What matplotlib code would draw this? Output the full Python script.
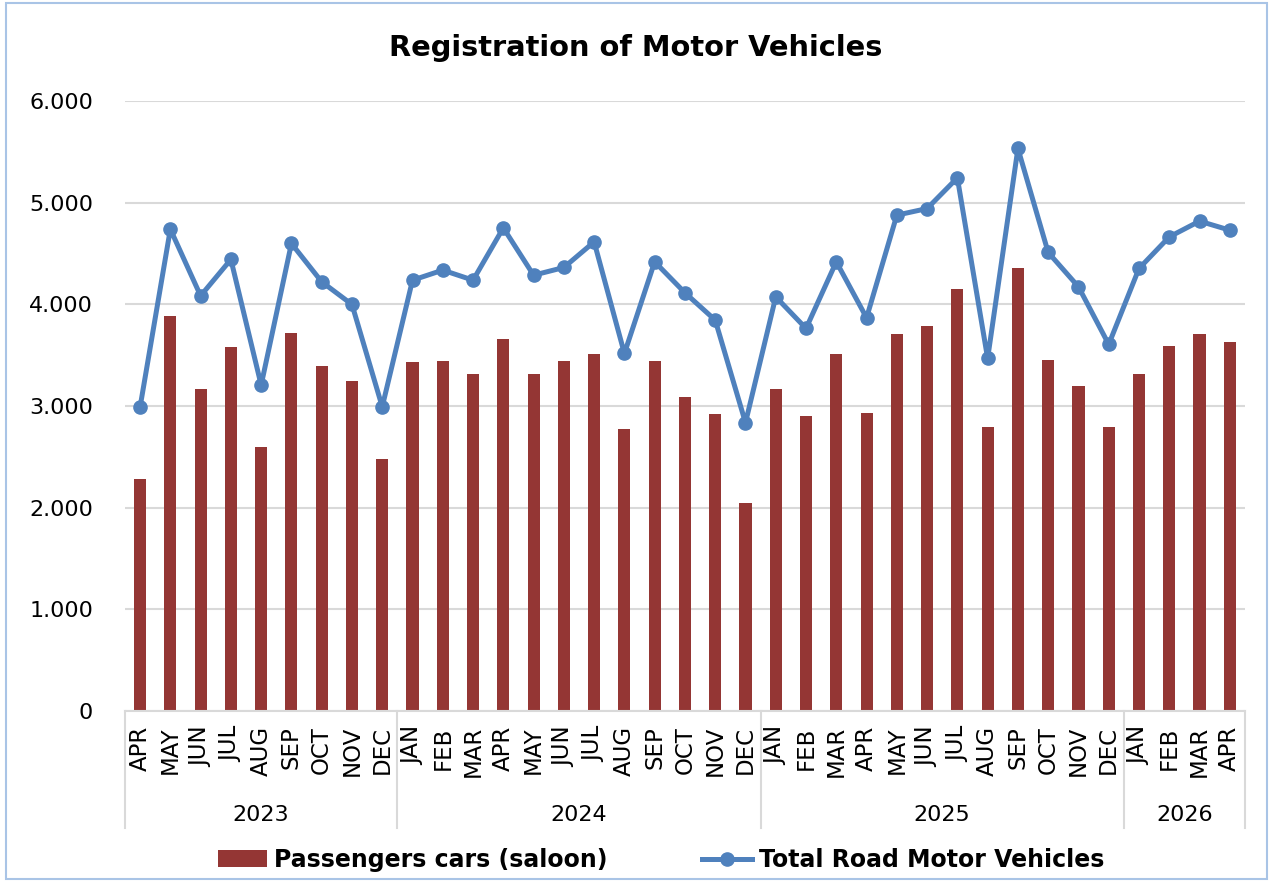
import matplotlib
matplotlib.use("Agg")
import matplotlib.pyplot as plt
import matplotlib.transforms as mtransforms
from matplotlib.patches import Rectangle
import numpy as np

months = ["APR", "MAY", "JUN", "JUL", "AUG", "SEP", "OCT", "NOV", "DEC",
          "JAN", "FEB", "MAR", "APR", "MAY", "JUN", "JUL", "AUG", "SEP", "OCT", "NOV", "DEC",
          "JAN", "FEB", "MAR", "APR", "MAY", "JUN", "JUL", "AUG", "SEP", "OCT", "NOV", "DEC",
          "JAN", "FEB", "MAR", "APR"]
years = ["2023", "2024", "2025", "2026"]
months_per_year = [9, 12, 12, 4]

passenger_cars = [2285, 3882, 3164, 3584, 2600, 3721, 3393, 3243, 2476,
                  3430, 3443, 3318, 3659, 3318, 3443, 3508, 2777, 3443, 3092, 2918, 2043,
                  3164, 2902, 3508, 2928, 3708, 3784, 4148, 2797, 4361, 3456, 3194, 2797,
                  3318, 3594, 3705, 3633]
total_vehicles = [2990, 4741, 4085, 4443, 3207, 4600, 4223, 4000, 2993,
                  4239, 4338, 4239, 4754, 4288, 4364, 4616, 3518, 4420, 4115, 3846, 2836,
                  4075, 3764, 4420, 3869, 4879, 4944, 5246, 3469, 5535, 4512, 4174, 3607,
                  4354, 4665, 4820, 4731]

bar_color = "#943634"
line_color = "#4f81bd"
grid_color = "#d9d9d9"

fig = plt.figure(figsize=(12.71, 8.81), dpi=100)
ax = fig.add_axes([0.0983, 0.193, 0.8812, 0.6921])

x = np.arange(len(months))
ax.bar(x, passenger_cars, width=0.4, color=bar_color, zorder=2,
       label="Passengers cars (saloon)")
ax.plot(x, total_vehicles, color=line_color, lw=3.6, marker="o", ms=9.5,
        zorder=3, label="Total Road Motor Vehicles")

ax.set_xlim(-0.5, len(months) - 0.5)
ax.set_ylim(0, 6000)
yt = np.arange(0, 6001, 1000)
ax.set_yticks(yt)
ax.set_yticklabels(["0" if v == 0 else f"{v//1000}.{v%1000:03d}" for v in yt],
                   fontsize=16)
ax.yaxis.grid(True, color=grid_color, lw=1.5, zorder=0)
ax.set_axisbelow(True)
ax.tick_params(axis="y", length=0, pad=23)
ax.set_xticks(x)
ax.set_xticklabels(months, rotation=90, fontsize=16.5)
ax.tick_params(axis="x", length=0, pad=11)
for s in ["top", "right", "left"]:
    ax.spines[s].set_visible(False)
ax.spines["bottom"].set_color(grid_color)
ax.spines["bottom"].set_linewidth(1.5)

trans = mtransforms.blended_transform_factory(ax.transData, ax.transAxes)
bounds = [-0.5]
for n in months_per_year:
    bounds.append(bounds[-1] + n)
for b in bounds:
    ax.plot([b, b], [0, -0.192], transform=trans, color=grid_color, lw=1.5,
            clip_on=False)
for i, yr in enumerate(years):
    ax.text((bounds[i] + bounds[i + 1]) / 2, -0.17, yr, transform=trans,
            ha="center", va="center", fontsize=16)

fig.text(0.5, 0.945, "Registration of Motor Vehicles", fontsize=20.8,
         fontweight="bold", ha="center", va="center")

handles, labels = ax.get_legend_handles_labels()
order = [labels.index("Passengers cars (saloon)"), labels.index("Total Road Motor Vehicles")]
fig.legend([handles[i] for i in order], [labels[i] for i in order],
           loc="center", bbox_to_anchor=(0.52, 0.024), ncol=2, frameon=False,
           prop={"weight": "bold", "size": 17}, handlelength=2.1,
           handletextpad=0.3, columnspacing=4.0)

fig.patches.append(Rectangle((0.005, 0.002), 0.992, 0.995, transform=fig.transFigure,
                             fill=False, edgecolor="#a9c4e6", lw=1.5))

fig.savefig("out.png", dpi=100)
